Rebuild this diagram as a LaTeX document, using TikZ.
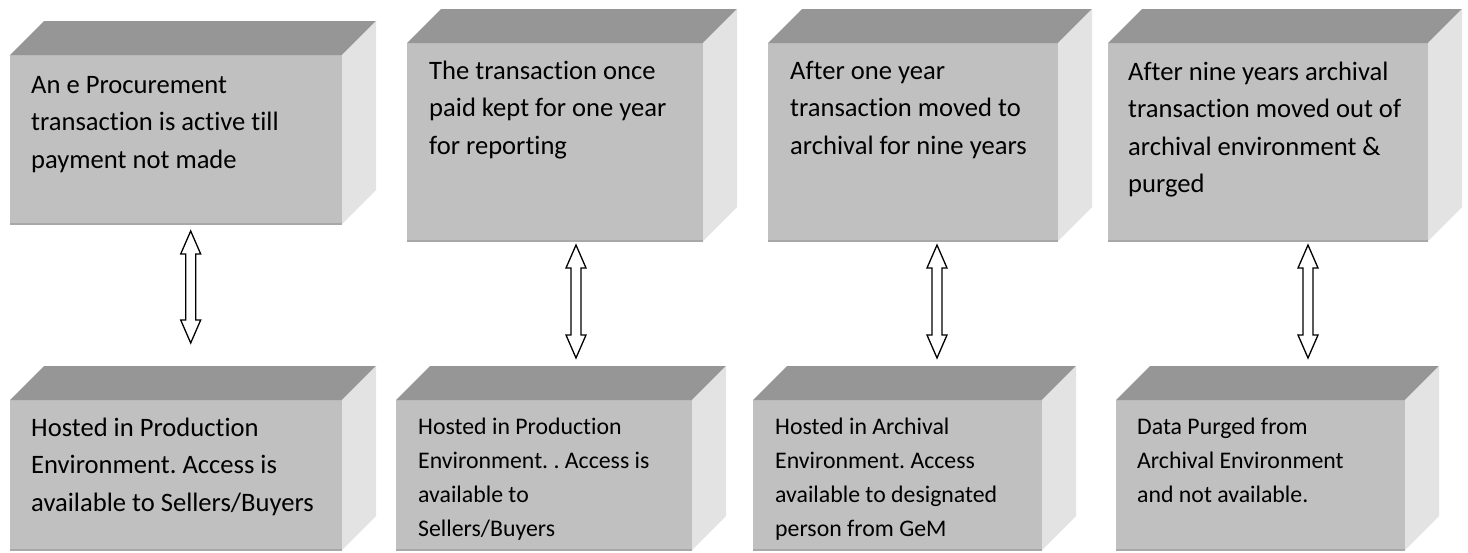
\documentclass[tikz,border=0pt]{standalone}
\usepackage{fontspec}
\setmainfont{Carlito}[RawFeature={-liga;-clig;-calt}]
\usetikzlibrary{calc}
\frenchspacing

\definecolor{frontgray}{HTML}{C0C0C0}
\definecolor{topgray}{HTML}{969696}
\definecolor{sidegray}{HTML}{E3E3E3}
\definecolor{edgegray}{HTML}{A8A8A8}

\tikzset{
  frontface/.style={fill=frontgray, inner sep=0pt, outer sep=0pt, anchor=north west},
  topface/.style={fill=topgray},
  sideface/.style={fill=sidegray},
  edgeline/.style={draw=edgegray, line width=1.5pt},
  bigtext/.style={font=\fontsize{26.6}{37.5}\selectfont, align=left, inner sep=0pt, anchor=north west},
  smalltext/.style={font=\fontsize{23.8}{34}\selectfont, align=left, inner sep=0pt, anchor=north west},
  hollowarrow/.style={draw=black, fill=white, line width=1.3pt, line join=miter}
}

% a box with a lit top and side: name, left, top, width, height
\newcommand\cubebox[5]{%
  \node[frontface, minimum width=#4pt, minimum height=#5pt] (#1) at (#2,#3) {};
  \fill[topface] (#1.north west) -- (#1.north east) -- ++(34,-34)
    -- ([shift={(34,-34)}]#1.north west) -- cycle;
  \fill[sideface] (#1.north east) -- ++(34,-34)
    -- ([shift={(34,-34)}]#1.south east) -- (#1.south east) -- cycle;
  \draw[edgeline] (#1.south west) -- (#1.south east);
}

% outlined two-headed arrow: name, centre x, top y, bottom y
\newcommand\hollowdouble[4]{%
  \coordinate (#1-t) at (#2,#3);
  \coordinate (#1-b) at (#2,#4);
  \draw[hollowarrow] (#1-t) -- ([shift={(10,23)}]#1-t) -- ([shift={(5,23)}]#1-t)
    -- ([shift={(5,-23)}]#1-b) -- ([shift={(10,-23)}]#1-b) -- (#1-b)
    -- ([shift={(-10,-23)}]#1-b) -- ([shift={(-5,-23)}]#1-b)
    -- ([shift={(-5,23)}]#1-t) -- ([shift={(-10,23)}]#1-t) -- cycle;
}

\newcommand\firstline{\rule{0pt}{22pt}}

\begin{document}
\begin{tikzpicture}[x=1pt, y=-1pt]
  \useasboundingbox[fill=white] (0,0) rectangle (1468,552);

  % upper row: lifecycle stages
  \cubebox{s1}{10}{55}{332}{169}
  \cubebox{s2}{407}{43}{296}{198}
  \cubebox{s3}{768}{43}{290}{198}
  \cubebox{s4}{1108}{43}{320}{198}

  % lower row: where the data lives
  \cubebox{h1}{10}{400}{332}{150}
  \cubebox{h2}{396}{400}{296}{150}
  \cubebox{h3}{753}{400}{289}{150}
  \cubebox{h4}{1116}{400}{289}{150}

  \node[bigtext] (s1text) at (31,71) {\firstline An e Procurement\\transaction is active till\\payment not made};
  \node[bigtext] (s2text) at (429,57) {\firstline The transaction once\\paid kept for one year\\for reporting};
  \node[bigtext] (s3text) at (790,57) {\firstline After one year\\transaction moved to\\archival for nine years};
  \node[bigtext] (s4text) at (1128,58) {\firstline After nine years archival\\transaction moved out of\\archival environment \&\\purged};

  \node[bigtext] (h1text) at (31,414) {\firstline Hosted in Production\\Environment. Access is\\available to Sellers/Buyers};
  \node[smalltext] (h2text) at (418,412) {\firstline Hosted in Production\\Environment. . Access is\\available to\\Sellers/Buyers};
  \node[smalltext] (h3text) at (775,412) {\firstline Hosted in Archival\\Environment. Access\\available to designated\\person from GeM};
  \node[smalltext] (h4text) at (1137,412) {\firstline Data Purged from\\Archival Environment\\and not available.};

  % two-way links between each stage and its hosting
  \hollowdouble{a1}{190.7}{231}{343}
  \hollowdouble{a2}{576}{245}{358}
  \hollowdouble{a3}{937}{245}{358}
  \hollowdouble{a4}{1308}{245}{358}
\end{tikzpicture}
\end{document}
